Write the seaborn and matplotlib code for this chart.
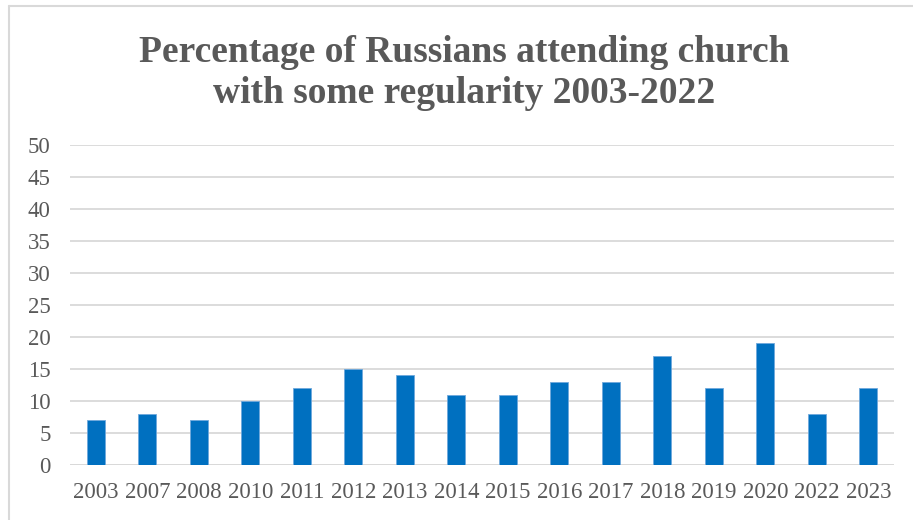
import matplotlib
matplotlib.use("Agg")
import matplotlib.pyplot as plt
import seaborn as sns
import pandas as pd
from matplotlib.lines import Line2D

years = ["2003", "2007", "2008", "2010", "2011", "2012", "2013", "2014",
         "2015", "2016", "2017", "2018", "2019", "2020", "2022", "2023"]
values = [7, 8, 7, 10, 12, 15, 14, 11, 11, 13, 13, 17, 12, 19, 8, 12]
y_ticks = [0, 5, 10, 15, 20, 25, 30, 35, 40, 45, 50]
title = "Percentage of Russians attending church\nwith some regularity 2003-2022"

sns.set_theme(style="white")
plt.rcParams['font.family'] = ['Liberation Serif', 'DejaVu Serif']

W, H = 913, 520
fig = plt.figure(figsize=(W / 100, H / 100), dpi=100)
ax = fig.add_axes([70 / W, 1 - 465 / H, (894 - 70) / W, (465 - 145) / H])

df = pd.DataFrame({"year": years, "value": values})
sns.barplot(data=df, x="year", y="value", color="#0070C0", saturation=1,
            width=0.34, ax=ax, order=years, edgecolor="#6FA8DC", linewidth=0.6)

ax.set_ylim(0, 50)
ax.set_xlim(-0.5, len(years) - 0.5)
ax.set_yticks(y_ticks)
ax.set_yticklabels([str(t) for t in y_ticks])
ax.yaxis.grid(True, color="#D9D9D9", linewidth=1.3)
ax.set_axisbelow(True)
for s in ["top", "right", "left", "bottom"]:
    ax.spines[s].set_visible(False)
ax.axhline(0, color="#D9D9D9", linewidth=1.3, zorder=0.5)
ax.set_xlabel("")
ax.set_ylabel("")
ax.tick_params(axis="y", length=0, pad=14, labelsize=16.5, labelcolor="#595959")
ax.tick_params(axis="x", length=0, pad=12, labelsize=16.5, labelcolor="#595959")

fig.text(0.508, 1 - 73 / H, title, ha="center", va="center",
         fontsize=27, fontweight="bold", color="#595959", linespacing=1.2)

# chart border (left and top visible)
fig.add_artist(Line2D([8.5 / W, 8.5 / W], [0, 1 - 6 / H], transform=fig.transFigure,
                      color="#D9D9D9", linewidth=1.5))
fig.add_artist(Line2D([8.5 / W, 1], [1 - 6 / H, 1 - 6 / H], transform=fig.transFigure,
                      color="#D9D9D9", linewidth=1.5))

fig.savefig("out.png", dpi=100)
